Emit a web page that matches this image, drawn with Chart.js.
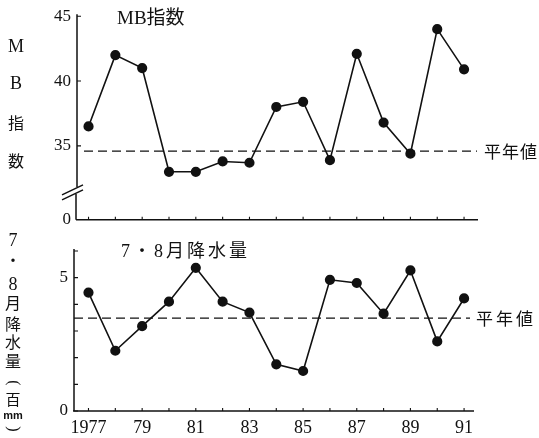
<!DOCTYPE html>
<html><head><meta charset="utf-8">
<script src="https://cdn.jsdelivr.net/npm/chart.js@4"></script>
<style>
html,body{margin:0;padding:0;background:#fff;}
#wrap{position:relative;width:539px;height:438px;overflow:hidden;background:#fff;}
canvas{position:absolute;left:0;}
#c1{top:0;z-index:2;} #c2{top:230px;z-index:1;}
</style></head><body>
<div id="wrap"><canvas id="c1" width="539" height="236"></canvas><canvas id="c2" width="539" height="208"></canvas></div>
<script>
// ---- data ----
const years = [1977,1978,1979,1980,1981,1982,1983,1984,1985,1986,1987,1988,1989,1990,1991];
const mbIndex = [36.5,42.0,41.0,33.0,33.0,33.8,33.7,38.0,38.4,33.9,42.1,36.8,34.4,44.0,40.9];
const mbNormal = 34.6;
const rainfall = [4.44,2.26,3.18,4.10,5.37,4.10,3.69,1.75,1.50,4.92,4.80,3.65,5.27,2.61,4.22];
const rainNormal = 3.48;
const mbTicks = [35,40,45];
const rainTicks = [0,1,2,3,4,5,6];
const rainLabelled = [0,5];
const yearLabels = {1977:'1977',1979:'79',1981:'81',1983:'83',1985:'85',1987:'87',1989:'89',1991:'91'};
const mbTitle = 'MB指数';
const rainTitle = '7・8月降水量';
const normalLabel = '平年値';
const mbAxisChars = ['M','B','指','数'];
const rainAxisChars = ['7','・','8','月','降','水','量','(','百','mm',')'];

// axis settings (broken axis: bottom of axis labelled 0)
const MB_BASE = 29.3;
const MB_BREAK = 31.45;

const SERIF = '"Liberation Serif", "Noto Sans CJK JP", serif';
const INK = '#111';
Chart.defaults.font.family = SERIF;
Chart.defaults.color = INK;

function lineDataset(vals){
  return {
    data: years.map((y,i)=>({x:y,y:vals[i]})),
    borderColor: INK, backgroundColor: INK, borderWidth: 1.6,
    pointRadius: 4.3, pointHoverRadius: 4.3, pointBackgroundColor: INK, pointBorderColor: INK,
    tension: 0, clip: false
  };
}

function deco(cfg){
  return {
    id: 'deco',
    afterDraw(chart){
      const ctx = chart.ctx, a = chart.chartArea;
      const xs = chart.scales.x, ys = chart.scales.y;
      ctx.save();
      ctx.strokeStyle = INK; ctx.fillStyle = INK; ctx.lineWidth = 1.5;
      // y axis
      const topY = ys.getPixelForValue(ys.max) - 2;
      ctx.beginPath();
      if (cfg.breakAt !== undefined){
        const by = ys.getPixelForValue(cfg.breakAt);
        ctx.moveTo(a.left, topY); ctx.lineTo(a.left, by - 5);
        ctx.moveTo(a.left - 1, by + 2); ctx.lineTo(a.left - 1, a.bottom);
        ctx.stroke();
        ctx.beginPath();
        ctx.moveTo(a.left - 15, by + 3); ctx.lineTo(a.left + 6, by - 7);
        ctx.moveTo(a.left - 15, by + 8); ctx.lineTo(a.left + 6, by - 2);
        ctx.stroke();
      } else {
        ctx.moveTo(a.left, topY); ctx.lineTo(a.left, a.bottom);
        ctx.stroke();
      }
      // x axis
      ctx.beginPath();
      ctx.moveTo(a.left - 1, a.bottom); ctx.lineTo(a.right, a.bottom);
      ctx.stroke();
      // x ticks (inward)
      ctx.lineWidth = 1.1;
      ctx.beginPath();
      years.forEach(y=>{ const px = xs.getPixelForValue(y); ctx.moveTo(px, a.bottom); ctx.lineTo(px, a.bottom - 3); });
      // y ticks (inward)
      cfg.yTicks.forEach(v=>{ const py = ys.getPixelForValue(v); ctx.moveTo(a.left, py); ctx.lineTo(a.left + 4, py); });
      ctx.stroke();
      // normal (dashed)
      const ny = ys.getPixelForValue(cfg.normal);
      ctx.lineWidth = 1.3; ctx.setLineDash([9,5]);
      ctx.beginPath(); ctx.moveTo(a.left + cfg.dashStart, ny); ctx.lineTo(a.right + cfg.dashEnd, ny); ctx.stroke();
      ctx.setLineDash([]);
      // normal label
      ctx.font = '17px "Noto Sans CJK JP"';
      ctx.textBaseline = 'middle'; ctx.textAlign = 'left';
      ctx.letterSpacing = cfg.normSpacing + 'px';
      ctx.fillText(normalLabel, cfg.normX, ny);
      ctx.letterSpacing = '0px';
      // title
      ctx.font = cfg.titleFont;
      ctx.letterSpacing = cfg.titleSpacing + 'px';
      ctx.fillText(cfg.title, cfg.titleX, cfg.titleY);
      ctx.letterSpacing = '0px';
      // left vertical axis title
      ctx.textAlign = 'center';
      cfg.axisChars.forEach((ch,i)=>{
        ctx.font = cfg.axisFonts[i];
        const rot = cfg.axisRot ? cfg.axisRot[i] : 0;
        if (rot){
          ctx.save();
          ctx.translate(cfg.axisX, cfg.axisY[i]);
          ctx.rotate(rot);
          ctx.fillText(ch, 0, 0);
          ctx.restore();
        } else {
          ctx.fillText(ch, cfg.axisX, cfg.axisY[i]);
        }
      });
      ctx.restore();
    }
  };
}

new Chart(document.getElementById('c1'), {
  type: 'line',
  data: { datasets: [lineDataset(mbIndex)] },
  options: {
    responsive: false, animation: false, devicePixelRatio: 1,
    plugins: { legend: {display:false}, tooltip: {enabled:false} },
    layout: { padding: {top:15, right:61, left:0, bottom:11} },
    scales: {
      x: { type:'linear', min:1976.57, max:1991.52, display:false },
      y: { type:'linear', min:MB_BASE, max:45,
           afterBuildTicks: s=>{ s.ticks = [MB_BASE, ...mbTicks].map(v=>({value:v})); },
           ticks:{ callback: v => v === MB_BASE ? '0' : String(v), font:{size:17, family:SERIF}, color:INK, padding:6 },
           grid:{display:false, drawTicks:false}, border:{display:false},
           afterFit: s=>{ s.width = 77; } }
    }
  },
  plugins: [deco({
    breakAt: MB_BREAK, yTicks: mbTicks, normal: mbNormal, dashStart: 7, dashEnd: -1,
    normX: 484, normSpacing: 1,
    title: mbTitle, titleFont: '19px "Liberation Serif", "Noto Sans CJK JP"', titleSpacing: 0, titleX: 117, titleY: 19,
    axisChars: mbAxisChars, axisX: 16, axisY: [47, 84, 123, 161],
    axisFonts: ['18px "Liberation Serif"','18px "Liberation Serif"','16px "Noto Sans CJK JP"','16px "Noto Sans CJK JP"']
  })]
});

new Chart(document.getElementById('c2'), {
  type: 'line',
  data: { datasets: [lineDataset(rainfall)] },
  options: {
    responsive: false, animation: false, devicePixelRatio: 1,
    plugins: { legend: {display:false}, tooltip: {enabled:false} },
    layout: { padding: {top:21, right:65, left:0, bottom:0} },
    scales: {
      x: { type:'linear', min:1976.46, max:1991.37,
           afterBuildTicks: s=>{ s.ticks = years.map(v=>({value:v})); },
           ticks:{ callback: v => yearLabels[v] || '', autoSkip:false, maxRotation:0, font:{size:18, family:SERIF}, color:INK, padding:6 },
           grid:{display:false, drawTicks:false}, border:{display:false},
           afterFit: s=>{ s.height = 27; } },
      y: { type:'linear', min:0, max:6,
           afterBuildTicks: s=>{ s.ticks = rainTicks.map(v=>({value:v})); },
           ticks:{ callback: v => rainLabelled.includes(v) ? String(v) : '', font:{size:17, family:SERIF}, color:INK, padding:6 },
           grid:{display:false, drawTicks:false}, border:{display:false},
           afterFit: s=>{ s.width = 74; } }
    }
  },
  plugins: [deco({
    yTicks: rainTicks, normal: rainNormal, dashStart: 0, dashEnd: -4,
    normX: 476, normSpacing: 3,
    title: rainTitle, titleFont: '18px "Liberation Serif", "Noto Sans CJK JP"', titleSpacing: 3, titleX: 121, titleY: 22,
    axisChars: rainAxisChars, axisX: 13, axisY: [11, 30, 55, 73, 94, 112, 131, 153, 169, 186, 199],
    axisRot: [0,0,0,0,0,0,0,Math.PI/2,0,0,Math.PI/2],
    axisFonts: ['18px "Liberation Serif"','16px "Noto Sans CJK JP"','18px "Liberation Serif"','16px "Noto Sans CJK JP"','16px "Noto Sans CJK JP"','16px "Noto Sans CJK JP"','16px "Noto Sans CJK JP"','16px "Liberation Serif"','15px "Noto Sans CJK JP"','bold 11px "Liberation Sans"','16px "Liberation Serif"']
  })]
});
</script>
</body></html>
